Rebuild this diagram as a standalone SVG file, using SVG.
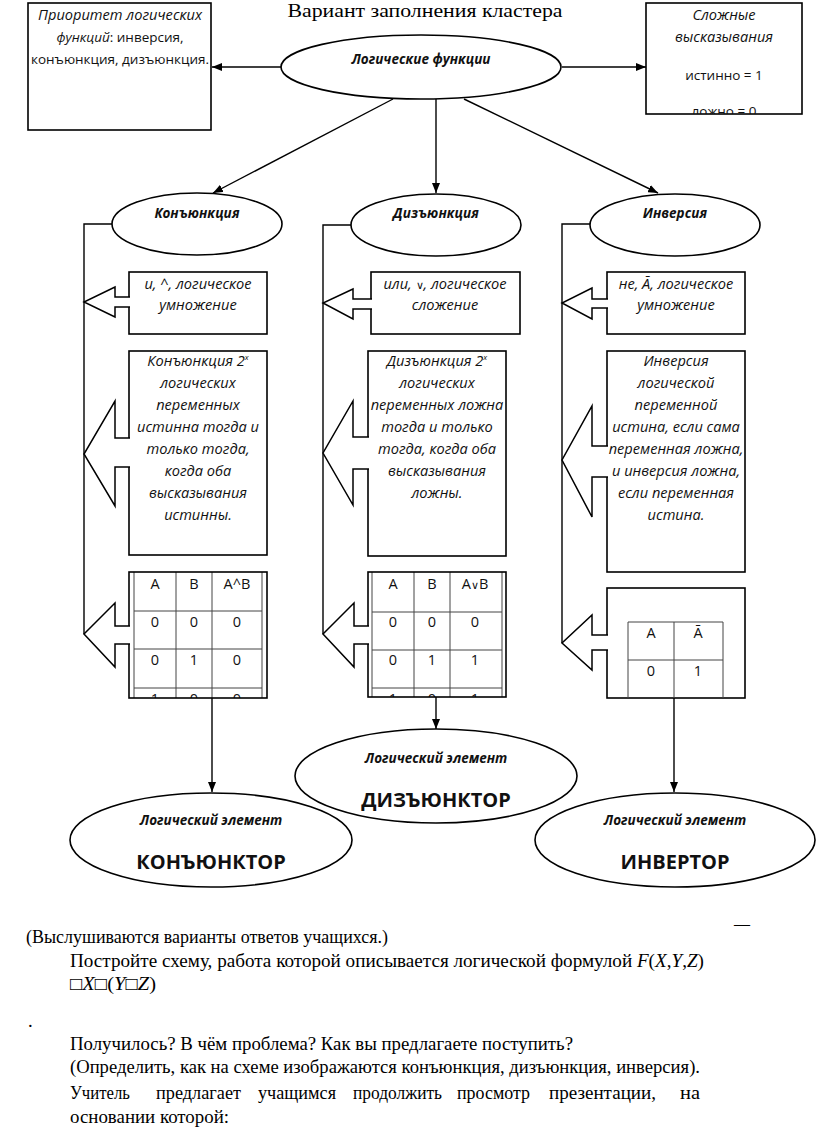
<svg xmlns="http://www.w3.org/2000/svg" width="816" height="1136" viewBox="0 0 816 1136">
<style>
.box{fill:#fff;stroke:#000;stroke-width:1.6}
.fr{fill:none;stroke:#000;stroke-width:1.6}
.ell{fill:#fff;stroke:#000;stroke-width:1.6}
.ln{fill:none;stroke:#000;stroke-width:1.4}
.blk{fill:#fff;stroke:#000;stroke-width:1.5;stroke-linejoin:miter}
.grid{fill:none;stroke:#444;stroke-width:1}
.s{font-family:"Open Sans","Noto Sans",sans-serif;font-size:13.5px;text-anchor:middle;fill:#111}
.i{font-style:italic;font-size:14.6px}
.bi{font-style:italic;font-weight:bold}
.b{font-weight:bold}
.big{font-size:20px}
.tb{font-family:"Open Sans","Noto Sans",sans-serif;font-size:14.5px;text-anchor:middle;fill:#111}
.ser{font-family:"Liberation Serif","Times New Roman",serif;font-size:18.67px;fill:#000}
.ttl{font-size:19.5px}
</style>
<defs>
<marker id="ah" markerWidth="10" markerHeight="8" refX="10" refY="4" orient="auto" markerUnits="userSpaceOnUse"><path d="M0,0 L10,4 L0,8 z" fill="#000"/></marker>
<clipPath id="cTR"><rect x="646" y="3" width="156" height="111"/></clipPath>
<clipPath id="cT1"><rect x="129" y="572" width="138" height="126"/></clipPath>
<clipPath id="cT2"><rect x="368" y="572" width="138" height="125"/></clipPath>
</defs>

<text class="ser ttl" x="425" y="17" text-anchor="middle" textLength="275" lengthAdjust="spacingAndGlyphs">Вариант заполнения кластера</text>

<g id="connectors">
<line class="ln" x1="281" y1="67" x2="212" y2="67" marker-end="url(#ah)"/>
<line class="ln" x1="562" y1="67" x2="646" y2="67" marker-end="url(#ah)"/>
<line class="ln" x1="393" y1="99" x2="213" y2="193" marker-end="url(#ah)"/>
<line class="ln" x1="436" y1="99" x2="436" y2="193" marker-end="url(#ah)"/>
<line class="ln" x1="464" y1="99" x2="658" y2="193" marker-end="url(#ah)"/>
<polyline class="ln" points="112,224 84,224 84,634"/>
<polyline class="ln" points="352,225 323,225 323,634"/>
<polyline class="ln" points="590,224 562,224 562,643"/>
<line class="ln" x1="212" y1="698" x2="212" y2="792" marker-end="url(#ah)"/>
<line class="ln" x1="436" y1="697" x2="436" y2="729" marker-end="url(#ah)"/>
<line class="ln" x1="674" y1="698" x2="674" y2="792" marker-end="url(#ah)"/>
</g>

<g id="priority">
<rect class="box" x="28" y="3" width="183" height="127"/>
<text class="s i" x="120" y="20">Приоритет логических</text>
<text class="s" x="120" y="42"><tspan font-style="italic">функций</tspan>: инверсия,</text>
<text class="s" x="120" y="64">конъюнкция, дизъюнкция.</text>
</g>

<g id="complex">
<rect class="box" x="646" y="3" width="156" height="111"/>
<g clip-path="url(#cTR)">
<text class="s i" x="724" y="20">Сложные</text>
<text class="s i" x="724" y="42">высказывания</text>
<text class="s" x="724" y="80">истинно = 1</text>
<text class="s" x="724" y="116">ложно = 0</text>
</g>
</g>

<g id="logic-functions">
<ellipse class="ell" cx="421" cy="67" rx="140" ry="32"/>
<text class="s bi" x="421" y="64">Логические функции</text>
</g>

<g id="conj">
<ellipse class="ell" cx="197" cy="224" rx="85" ry="31"/>
<text class="s bi" x="197" y="218">Конъюнкция</text>
</g>
<g id="disj">
<ellipse class="ell" cx="436" cy="225" rx="85" ry="31"/>
<text class="s bi" x="436" y="218">Дизъюнкция</text>
</g>
<g id="inv">
<ellipse class="ell" cx="675" cy="225" rx="85" ry="31"/>
<text class="s bi" x="675" y="218">Инверсия</text>
</g>

<g id="conj-notation">
<rect class="box" x="129" y="272" width="138" height="62"/>
<text class="s i" x="198" y="289">и, ^, логическое</text>
<text class="s i" x="198" y="310">умножение</text>
<path class="blk" d="M130,297 H115 V287 L84,302 L115,317 V307 H130"/>
</g>
<g id="conj-def">
<rect class="box" x="129" y="351" width="138" height="204"/>
<text class="s i" x="198" y="366">Конъюнкция 2<tspan font-size="8" dy="-6">х</tspan></text>
<text class="s i" x="198" y="388">логических</text>
<text class="s i" x="198" y="410">переменных</text>
<text class="s i" x="198" y="432">истинна тогда и</text>
<text class="s i" x="198" y="454">только тогда,</text>
<text class="s i" x="198" y="476">когда оба</text>
<text class="s i" x="198" y="498">высказывания</text>
<text class="s i" x="198" y="520">истинны.</text>
<path class="blk" d="M130,438 H115 V401 L84,454 L115,506 V467 H130"/>
</g>
<g id="conj-table">
<rect x="129" y="572" width="138" height="126" fill="#fff"/>
<g clip-path="url(#cT1)">
<path class="grid" d="M134,572 V698 M176,572 V698 M212,572 V698 M262,572 V698 M134,611 H262 M134,649 H262 M134,688 H262"/>
<text class="tb" x="155" y="589">A</text><text class="tb" x="194" y="589">B</text><text class="tb" x="237" y="589">A^B</text>
<text class="tb" x="155" y="627">0</text><text class="tb" x="194" y="627">0</text><text class="tb" x="237" y="627">0</text>
<text class="tb" x="155" y="665">0</text><text class="tb" x="194" y="665">1</text><text class="tb" x="237" y="665">0</text>
<text class="tb" x="155" y="704">1</text><text class="tb" x="194" y="704">0</text><text class="tb" x="237" y="704">0</text>
</g>
<rect class="fr" x="129" y="572" width="138" height="126"/>
<path class="blk" d="M130,626 H115 V603 L84,634 L115,667 V644 H130"/>
</g>

<g id="disj-notation">
<rect class="box" x="371" y="272" width="149" height="62"/>
<text class="s i" x="445" y="289">или, <tspan font-style="normal" font-size="11">∨</tspan>, логическое</text>
<text class="s i" x="445" y="310">сложение</text>
<path class="blk" d="M372,299 H353 V289 L323,303 L353,319 V309 H372"/>
</g>
<g id="disj-def">
<rect class="box" x="368" y="351" width="138" height="205"/>
<text class="s i" x="437" y="366">Дизъюнкция 2<tspan font-size="8" dy="-6">х</tspan></text>
<text class="s i" x="437" y="388">логических</text>
<text class="s i" x="437" y="410">переменных ложна</text>
<text class="s i" x="437" y="432">тогда и только</text>
<text class="s i" x="437" y="454">тогда, когда оба</text>
<text class="s i" x="437" y="476">высказывания</text>
<text class="s i" x="437" y="498">ложны.</text>
<path class="blk" d="M369,437 H353 V401 L323,453 L353,505 V469 H369"/>
</g>
<g id="disj-table">
<rect x="368" y="572" width="138" height="125" fill="#fff"/>
<g clip-path="url(#cT2)">
<path class="grid" d="M372,572 V697 M414,572 V697 M450,572 V697 M502,572 V697 M372,612 H502 M372,650 H502 M372,688 H502"/>
<text class="tb" x="393" y="589">A</text><text class="tb" x="432" y="589">B</text><text class="tb" x="475" y="589">A<tspan font-size="11">∨</tspan>B</text>
<text class="tb" x="393" y="627">0</text><text class="tb" x="432" y="627">0</text><text class="tb" x="475" y="627">0</text>
<text class="tb" x="393" y="665">0</text><text class="tb" x="432" y="665">1</text><text class="tb" x="475" y="665">1</text>
<text class="tb" x="393" y="704">1</text><text class="tb" x="432" y="704">0</text><text class="tb" x="475" y="704">1</text>
</g>
<rect class="fr" x="368" y="572" width="138" height="125"/>
<path class="blk" d="M369,626 H354 V603 L323,634 L354,667 V644 H369"/>
</g>

<g id="inv-notation">
<rect class="box" x="607" y="272" width="138" height="62"/>
<text class="s i" x="676" y="289">не, Ā, логическое</text>
<text class="s i" x="676" y="310">умножение</text>
<path class="blk" d="M608,299 H592 V288 L562,303 L592,319 V308 H608"/>
</g>
<g id="inv-def">
<rect class="box" x="607" y="351" width="138" height="221"/>
<text class="s i" x="676" y="366">Инверсия</text>
<text class="s i" x="676" y="388">логической</text>
<text class="s i" x="676" y="410">переменной</text>
<text class="s i" x="676" y="432">истина, если сама</text>
<text class="s i" x="676" y="454">переменная ложна,</text>
<text class="s i" x="676" y="476">и инверсия ложна,</text>
<text class="s i" x="676" y="498">если переменная</text>
<text class="s i" x="676" y="520">истина.</text>
<path class="blk" d="M608,446 H592 V406 L562,460 L592,517 V477 H608"/>
</g>
<g id="inv-table">
<rect class="box" x="607" y="588" width="138" height="110"/>
<path class="grid" d="M628,622 H723 V698 M628,622 V698 M674,622 V698 M628,660 H723"/>
<text class="tb" x="651" y="638">A</text><text class="tb" x="698" y="638">Ā</text>
<text class="tb" x="651" y="676">0</text><text class="tb" x="698" y="676">1</text>
<path class="blk" d="M608,635 H592 V615 L562,643 L592,670 V650 H608"/>
</g>

<g id="conjunctor">
<ellipse class="ell" cx="211" cy="840" rx="141" ry="47"/>
<text class="s bi" x="211" y="825">Логический элемент</text>
<text class="s b big" x="211" y="869">КОНЪЮНКТОР</text>
</g>
<g id="disjunctor">
<ellipse class="ell" cx="436" cy="776" rx="141" ry="47"/>
<text class="s bi" x="436" y="763">Логический элемент</text>
<text class="s b big" x="436" y="807">ДИЗЪЮНКТОР</text>
</g>
<g id="invertor">
<ellipse class="ell" cx="675" cy="840" rx="140" ry="47"/>
<text class="s bi" x="675" y="825">Логический элемент</text>
<text class="s b big" x="675" y="869">ИНВЕРТОР</text>
</g>

<g id="text-below">
<text class="ser" x="742" y="929" text-anchor="middle" style="font-size:16px">—</text>
<text class="ser" x="26" y="943" textLength="362" lengthAdjust="spacingAndGlyphs">(Выслушиваются варианты ответов учащихся.)</text>
<text class="ser" x="70" y="967" textLength="634" lengthAdjust="spacingAndGlyphs">Постройте схему, работа которой описывается логической формулой <tspan font-style="italic">F</tspan>(<tspan font-style="italic">X</tspan>,<tspan font-style="italic">Y</tspan>,<tspan font-style="italic">Z</tspan>)</text>
<text class="ser" x="70" y="990" textLength="86" lengthAdjust="spacingAndGlyphs">□<tspan font-style="italic">X</tspan>□(<tspan font-style="italic">Y</tspan>□<tspan font-style="italic">Z</tspan>)</text>
<text class="ser" x="28" y="1027">.</text>
<text class="ser" x="70" y="1050" textLength="503" lengthAdjust="spacingAndGlyphs">Получилось? В чём проблема? Как вы предлагаете поступить?</text>
<text class="ser" x="70" y="1073" textLength="630" lengthAdjust="spacingAndGlyphs">(Определить, как на схеме изображаются конъюнкция, дизъюнкция, инверсия).</text>
<text class="ser" y="1099"><tspan x="70" textLength="60" lengthAdjust="spacingAndGlyphs">Учитель</tspan> <tspan x="156" textLength="85" lengthAdjust="spacingAndGlyphs">предлагает</tspan> <tspan x="258" textLength="78" lengthAdjust="spacingAndGlyphs">учащимся</tspan> <tspan x="353" textLength="89" lengthAdjust="spacingAndGlyphs">продолжить</tspan> <tspan x="457" textLength="73" lengthAdjust="spacingAndGlyphs">просмотр</tspan> <tspan x="549" textLength="107" lengthAdjust="spacingAndGlyphs">презентации,</tspan> <tspan x="680" textLength="20" lengthAdjust="spacingAndGlyphs">на</tspan></text>
<text class="ser" x="70" y="1123" textLength="159" lengthAdjust="spacingAndGlyphs">основании которой:</text>
</g>
</svg>
